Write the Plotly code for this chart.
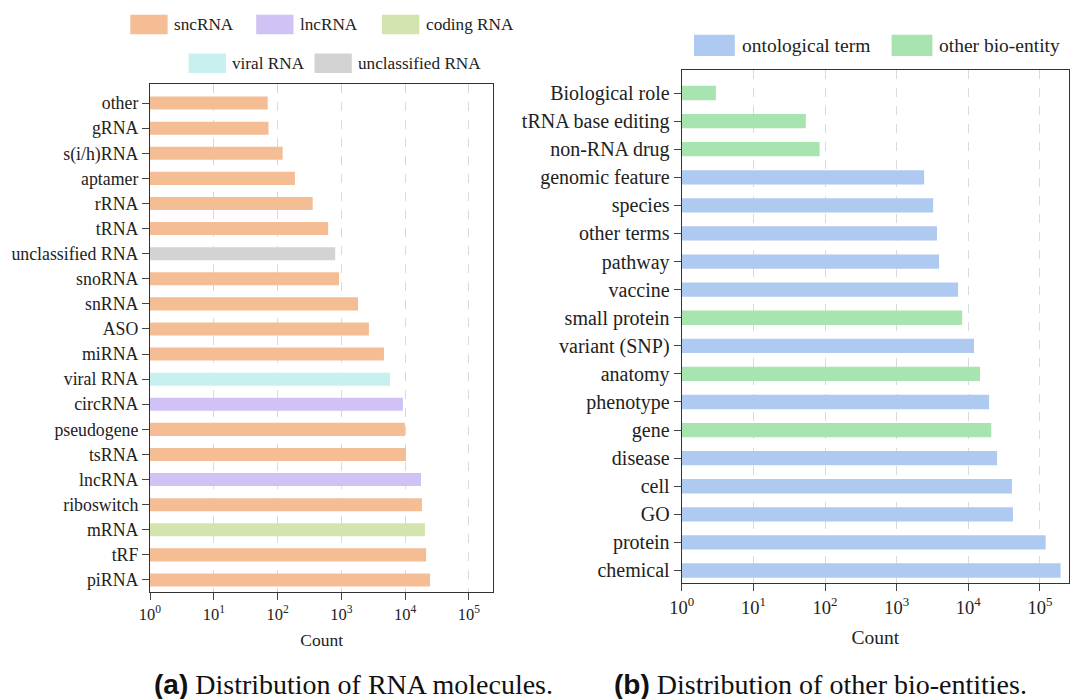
import plotly.graph_objects as go

# ---------------- data ----------------
rna_types = ["piRNA", "tRF", "mRNA", "riboswitch", "lncRNA", "tsRNA", "pseudogene",
             "circRNA", "viral RNA", "miRNA", "ASO", "snRNA", "snoRNA",
             "unclassified RNA", "tRNA", "rRNA", "aptamer", "s(i/h)RNA", "gRNA", "other"]
rna_counts = [24500, 21300, 20400, 18300, 17700, 10300, 9900, 9200, 5800, 4650,
              2700, 1820, 920, 800, 620, 355, 187, 120, 72, 70]
rna_groups = ["sncRNA", "sncRNA", "coding RNA", "sncRNA", "lncRNA", "sncRNA", "sncRNA",
              "lncRNA", "viral RNA", "sncRNA", "sncRNA", "sncRNA", "sncRNA",
              "unclassified RNA", "sncRNA", "sncRNA", "sncRNA", "sncRNA", "sncRNA", "sncRNA"]
rna_group_names = ["sncRNA", "lncRNA", "coding RNA", "viral RNA", "unclassified RNA"]
rna_group_colors = ["#F5BD94", "#D0C2F5", "#D4E4AE", "#C8F0EE", "#D3D3D3"]

entity_types = ["chemical", "protein", "GO", "cell", "disease", "gene", "phenotype",
                "anatomy", "variant (SNP)", "small protein", "vaccine", "pathway",
                "other terms", "species", "genomic feature", "non-RNA drug",
                "tRNA base editing", "Biological role"]
entity_counts = [194000, 120000, 42000, 40600, 25200, 20900, 19500, 14600, 12000,
                 8200, 7200, 3900, 3650, 3230, 2420, 84, 54, 3]
entity_groups = ["ontological term", "ontological term", "ontological term",
                 "ontological term", "ontological term", "other bio-entity",
                 "ontological term", "other bio-entity", "ontological term",
                 "other bio-entity", "ontological term", "ontological term",
                 "ontological term", "ontological term", "ontological term",
                 "other bio-entity", "other bio-entity", "other bio-entity"]
entity_group_names = ["ontological term", "other bio-entity"]
entity_group_colors = ["#AFCAF0", "#A8E4B0"]

tick_vals = [1, 10, 100, 1000, 10000, 100000]
tick_text = ["10<sup>%d</sup>" % i for i in range(6)]

W, H = 1072, 699
SERIF = "Liberation Serif"

rna_cmap = dict(zip(rna_group_names, rna_group_colors))
ent_cmap = dict(zip(entity_group_names, entity_group_colors))

fig = go.Figure()
fig.add_trace(go.Bar(
    y=rna_types, x=rna_counts, orientation="h", width=0.52,
    marker=dict(color=[rna_cmap[g] for g in rna_groups], line=dict(width=0)),
    xaxis="x", yaxis="y", showlegend=False, hoverinfo="x+y"))
fig.add_trace(go.Bar(
    y=entity_types, x=entity_counts, orientation="h", width=0.51,
    marker=dict(color=[ent_cmap[g] for g in entity_groups], line=dict(width=0)),
    xaxis="x2", yaxis="y2", showlegend=False, hoverinfo="x+y"))


def px(x):
    return x / W


def py(y):
    return 1 - y / H


def xaxis_cfg(domain, rng, fsize, tsize, standoff, anchor):
    return dict(
        type="log", domain=domain, range=rng, anchor=anchor, automargin=False,
        tickmode="array", tickvals=tick_vals, ticktext=tick_text,
        ticks="outside", ticklen=7, tickwidth=1, tickcolor="#444",
        showline=True, linecolor="#333", linewidth=1.2, mirror=True,
        showgrid=True, gridcolor="#DADADA", griddash="dash", gridwidth=1,
        zeroline=False, tickfont=dict(family=SERIF, size=fsize, color="#222"),
        title=dict(text="Count", font=dict(family=SERIF, size=tsize, color="#222"),
                   standoff=standoff))


def yaxis_cfg(domain, cats, rng, fsize, anchor):
    return dict(
        type="category", domain=domain, categoryorder="array", categoryarray=cats,
        range=rng, anchor=anchor, automargin=False,
        ticks="outside", ticklen=7, tickwidth=1, tickcolor="#444",
        showline=True, linecolor="#333", linewidth=1.2, mirror=True,
        showgrid=False, zeroline=False,
        tickfont=dict(family=SERIF, size=fsize, color="#222"))


xa = xaxis_cfg([px(150), px(493.3)], [0, 5.381], 16.5, 17.5, 10, "y")
ya = yaxis_cfg([py(592), py(84)], rna_types, [-0.48, 19.76], 17.8, "x")
xa2 = xaxis_cfg([px(681.7), px(1069)], [0, 5.405], 18.5, 19.5, 13, "y2")
ya2 = yaxis_cfg([py(583.3), py(70)], entity_types, [-0.456, 17.82], 20, "x2")

shapes = []
annotations = []

# legend for panel (a): two centred rows
rna_leg_pos = [(130.3, 24.5), (256.2, 24.5), (382.0, 24.5), (188.6, 63.3), (314.5, 63.3)]
for name, color, (x0, yc) in zip(rna_group_names, rna_group_colors, rna_leg_pos):
    shapes.append(dict(type="rect", xref="paper", yref="paper",
                       x0=px(x0), x1=px(x0 + 37.3), y0=py(yc + 9.7), y1=py(yc - 9.7),
                       fillcolor=color, line=dict(width=0)))
    annotations.append(dict(xref="paper", yref="paper", x=px(x0 + 41.5), y=py(yc),
                            text=name, showarrow=False, xanchor="left", yanchor="middle",
                            font=dict(family=SERIF, size=17.2, color="#222")))

# legend for panel (b)
ent_leg_pos = [(694.0, 45.4), (891.6, 45.4)]
for name, color, (x0, yc) in zip(entity_group_names, entity_group_colors, ent_leg_pos):
    shapes.append(dict(type="rect", xref="paper", yref="paper",
                       x0=px(x0), x1=px(x0 + 40.8), y0=py(yc + 10.7), y1=py(yc - 10.7),
                       fillcolor=color, line=dict(width=0)))
    annotations.append(dict(xref="paper", yref="paper", x=px(x0 + 45.5), y=py(yc),
                            text=name, showarrow=False, xanchor="left", yanchor="middle",
                            font=dict(family=SERIF, size=19.5, color="#222")))

# captions
annotations.append(dict(
    xref="paper", yref="paper", x=px(353.7), y=py(684), showarrow=False,
    xanchor="center", yanchor="middle",
    text='<span style="font-family:Liberation Sans"><b>(a)</b></span> Distribution of RNA molecules.',
    font=dict(family=SERIF, size=28, color="#111")))
annotations.append(dict(
    xref="paper", yref="paper", x=px(820), y=py(684), showarrow=False,
    xanchor="center", yanchor="middle",
    text='<span style="font-family:Liberation Sans"><b>(b)</b></span> Distribution of other bio-entities.',
    font=dict(family=SERIF, size=28, color="#111")))

fig.update_layout(
    template="none",
    width=W, height=H, margin=dict(l=0, r=0, t=0, b=0, pad=0),
    paper_bgcolor="white", plot_bgcolor="white",
    font=dict(family=SERIF, size=17, color="#222"),
    xaxis=xa, yaxis=ya, xaxis2=xa2, yaxis2=ya2,
    shapes=shapes, annotations=annotations, showlegend=False,
)

fig.write_html("out.html")
